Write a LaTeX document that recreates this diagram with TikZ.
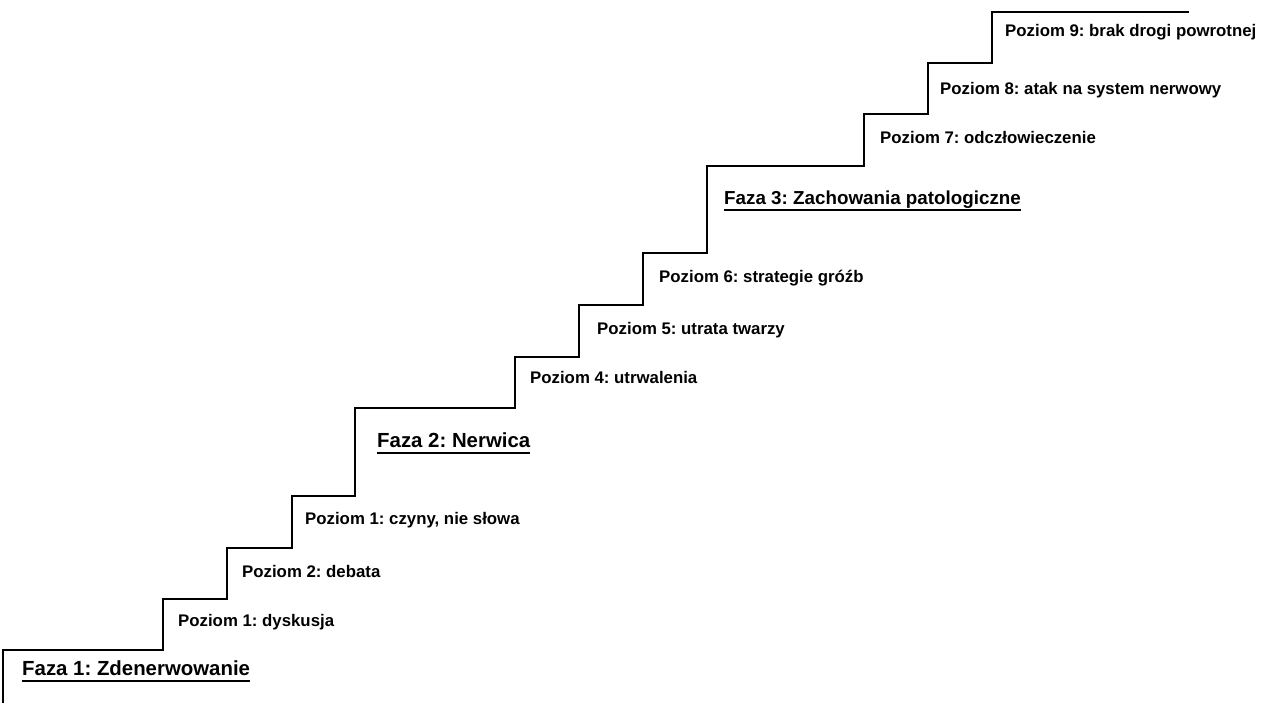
\documentclass[tikz,border=0pt]{standalone}
\usepackage{fontspec}
\setmainfont{Liberation Sans}
\frenchspacing
\begin{document}
\begin{tikzpicture}[x=1pt,y=-1pt,
  stair/.style={line width=1.8pt,line join=miter,line cap=rect},
  level/.style={anchor=base west,inner sep=0pt,font=\fontsize{16.8}{20}\selectfont\bfseries},
  phase/.style={anchor=base west,inner sep=0pt,font=\fontsize{20.4}{24}\selectfont\bfseries},
  uline/.style={line width=2pt}]
\useasboundingbox (0,0) rectangle (1268,703);

% staircase
\draw[stair] (3,703) |- (163,650) |- (227,599) |- (292,548) |- (355,496)
  |- (515,408) |- (579,357) |- (643,305) |- (707,253)
  |- (864,166) |- (928,114) |- (992,63) |- (1188,12);

% phase headings
\node[phase] (f1) at (22,675) {Faza 1: Zdenerwowanie};
\node[phase] (f2) at (377,447) {Faza 2: Nerwica};
\node[phase,font=\fontsize{18.8}{22}\selectfont\bfseries] (f3) at (724,205) {Faza 3: Zachowania patologiczne};
\foreach \f in {f1,f2,f3}
  \draw[uline] ([yshift=-5.5pt]\f.base west) -- ([yshift=-5.5pt]\f.base east);

% levels
\node[level] (p1) at (178,626) {Poziom 1: dyskusja};
\node[level] (p2) at (242,577) {Poziom 2: debata};
\node[level] (p3) at (305,524) {Poziom 1: czyny, nie słowa};
\node[level] (p4) at (530,383) {Poziom 4: utrwalenia};
\node[level] (p5) at (597,334) {Poziom 5: utrata twarzy};
\node[level] (p6) at (659,282) {Poziom 6: strategie gróźb};
\node[level] (p7) at (880,144) {Poziom 7: odczłowieczenie};
\node[level] (p8) at (940,95) {Poziom 8: atak na system nerwowy};
\node[level] (p9) at (1005,37) {Poziom 9: brak drogi powrotnej};
\end{tikzpicture}
\end{document}
